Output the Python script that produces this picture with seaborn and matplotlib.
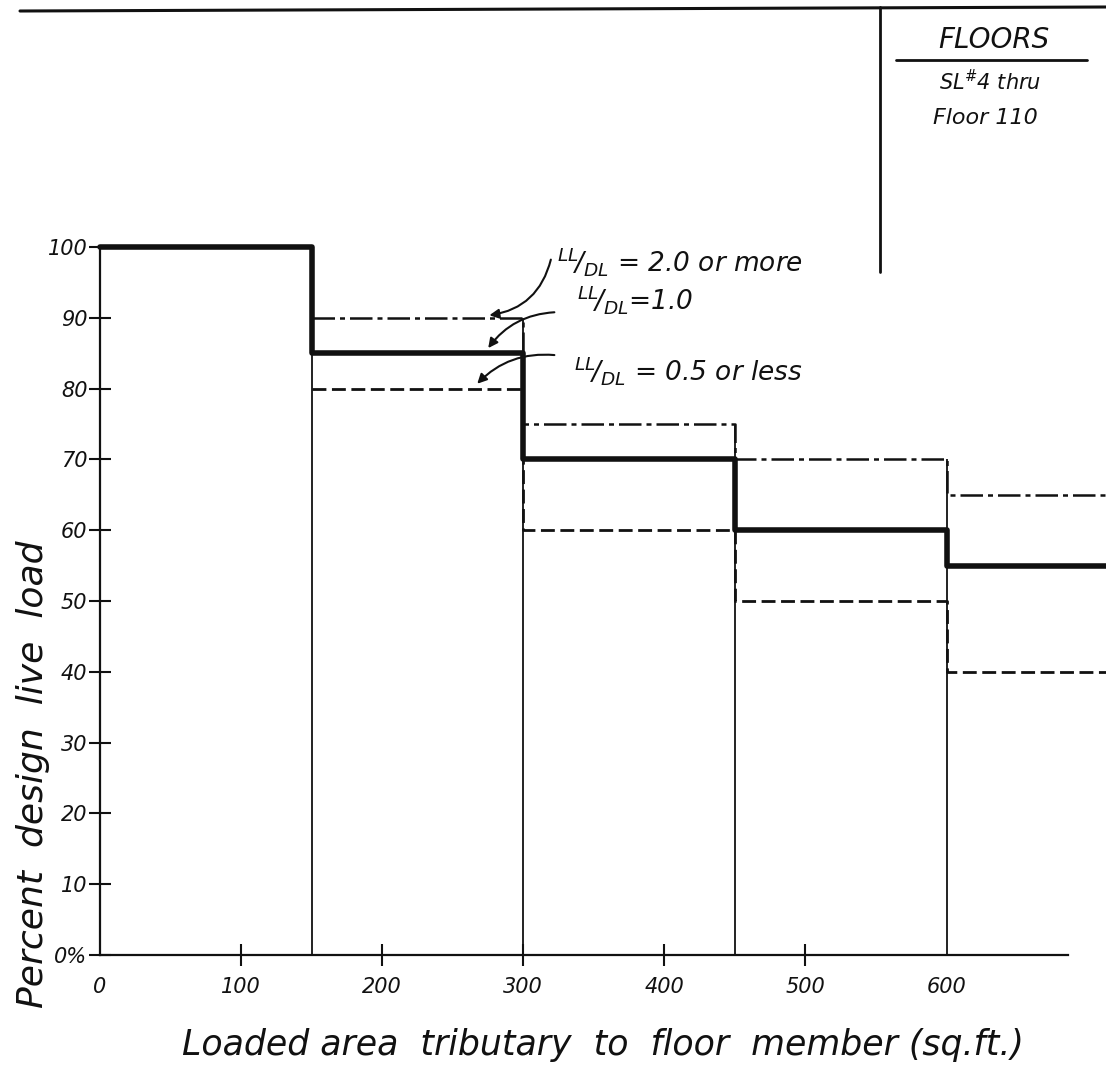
import numpy as np
import pandas as pd
import matplotlib
matplotlib.use("Agg")
import matplotlib.pyplot as plt
from matplotlib.lines import Line2D
import seaborn as sns

# step boundaries of loaded area (sq.ft.)
x_edges = [0, 150, 300, 450, 600]
x_end = 713
# percent design live load for each step
ll_dl_1 = [100, 85, 70, 60, 55]        # LL/DL = 1.0 (heavy line)
ll_dl_2 = [100, 90, 75, 70, 65]        # LL/DL = 2.0 or more
ll_dl_05 = [100, 80, 60, 50, 40]       # LL/DL = 0.5 or less

x_ticks = [0, 100, 200, 300, 400, 500, 600]
y_ticks = list(range(0, 101, 10))
y_tick_labels = ["0%"] + [str(v) for v in y_ticks[1:]]

sns.set_style("white")
plt.rcParams["font.family"] = ["DejaVu Sans"]
plt.rcParams["font.style"] = "italic"
plt.rcParams["mathtext.fontset"] = "dejavusans"

ink = "#111111"

def step_frame(values, start=0):
    xs = x_edges[start:] + [x_end]
    ys = values[start:] + [values[-1]]
    return pd.DataFrame({"area": xs, "pct": ys})

fig = plt.figure(figsize=(11.06, 10.71), dpi=100)
ax = fig.add_axes([100 / 1106, 116 / 1071, 1006 / 1106, 708 / 1071])
ax.set_xlim(0, x_end)
ax.set_ylim(0, 100)

# thin boundary lines from the axis up to the top of each step
tops = [max(ll_dl_2[i - 1], ll_dl_2[i]) for i in range(1, len(x_edges))]
ax.vlines(x_edges[1:], 0, tops, color=ink, lw=1.3, clip_on=False)

sns.lineplot(data=step_frame(ll_dl_2, 1), x="area", y="pct", ax=ax,
             drawstyle="steps-post", color=ink, lw=1.8, clip_on=False)
ax.lines[-1].set_dashes([9, 2, 2, 2])
sns.lineplot(data=step_frame(ll_dl_05, 1), x="area", y="pct", ax=ax,
             drawstyle="steps-post", color=ink, lw=2.0, clip_on=False)
ax.lines[-1].set_dashes([5, 2])
sns.lineplot(data=step_frame(ll_dl_1), x="area", y="pct", ax=ax,
             drawstyle="steps-post", color=ink, lw=4.0, clip_on=False)

for side in ["top", "right"]:
    ax.spines[side].set_visible(False)
ax.spines["left"].set_bounds(0, 100)
ax.spines["bottom"].set_bounds(0, 686)
for side in ["left", "bottom"]:
    ax.spines[side].set_color(ink)
    ax.spines[side].set_linewidth(1.6)

ax.set_xticks(x_ticks)
ax.set_xticklabels([str(v) for v in x_ticks], fontsize=15, style="italic")
ax.set_yticks(y_ticks)
ax.set_yticklabels(y_tick_labels, fontsize=15, style="italic")
ax.tick_params(axis="both", direction="inout", length=16, width=1.5,
               colors=ink, bottom=True, left=True)
ax.tick_params(axis="x", pad=8)
ax.tick_params(axis="y", pad=1)
ax.xaxis.get_major_ticks()[0].tick1line.set_visible(False)
ax.xaxis.get_major_ticks()[-1].tick1line.set_visible(False)
ax.set_xlabel("Loaded area  tributary  to  floor  member (sq.ft.)",
              fontsize=25, style="italic", labelpad=22, color=ink)
ax.set_ylabel("Percent  design  live  load", fontsize=26, style="italic",
              color=ink)
ax.yaxis.set_label_coords(-0.05, 0.255)

# annotations with curved arrows
notes = [
    (r"$^{LL}\!/_{DL}$ = 2.0 or more", (274, 90.3), (324, 98.0), (320, 98.6), -0.35),
    (r"$^{LL}\!/_{DL}$=1.0", (274, 85.4), (338, 92.6), (324, 90.8), 0.25),
    (r"$^{LL}\!/_{DL}$ = 0.5 or less", (266, 80.4), (336, 82.5), (324, 84.7), 0.25),
]
for text, tip, pos, start, rad in notes:
    ax.text(pos[0], pos[1], text, fontsize=19, style="italic", color=ink,
            va="center", ha="left", clip_on=False)
    ax.annotate("", xy=tip, xytext=start,
                arrowprops=dict(arrowstyle="-|>", color=ink, lw=1.5,
                                connectionstyle=f"arc3,rad={rad}",
                                mutation_scale=14),
                annotation_clip=False)

# title block in the corner
fig.add_artist(Line2D([20 / 1106, 1.0], [1 - 11 / 1071, 1 - 7 / 1071],
                      color=ink, lw=2.2))
fig.add_artist(Line2D([880 / 1106, 880 / 1106], [1 - 7 / 1071, 1 - 272 / 1071],
                      color=ink, lw=2.0))
fig.add_artist(Line2D([896 / 1106, 1087 / 1106], [1 - 60 / 1071, 1 - 60 / 1071],
                      color=ink, lw=2.0))
fig.text(994 / 1106, 1 - 40 / 1071, "FLOORS", fontsize=20, style="italic",
         ha="center", va="center", color=ink)
fig.text(990 / 1106, 1 - 82 / 1071, "SL$^{\\#}$4 thru", fontsize=15,
         style="italic", ha="center", va="center", color=ink)
fig.text(985 / 1106, 1 - 118 / 1071, "Floor 110", fontsize=16,
         style="italic", ha="center", va="center", color=ink)

fig.savefig("out.png", dpi=100, facecolor="white")
